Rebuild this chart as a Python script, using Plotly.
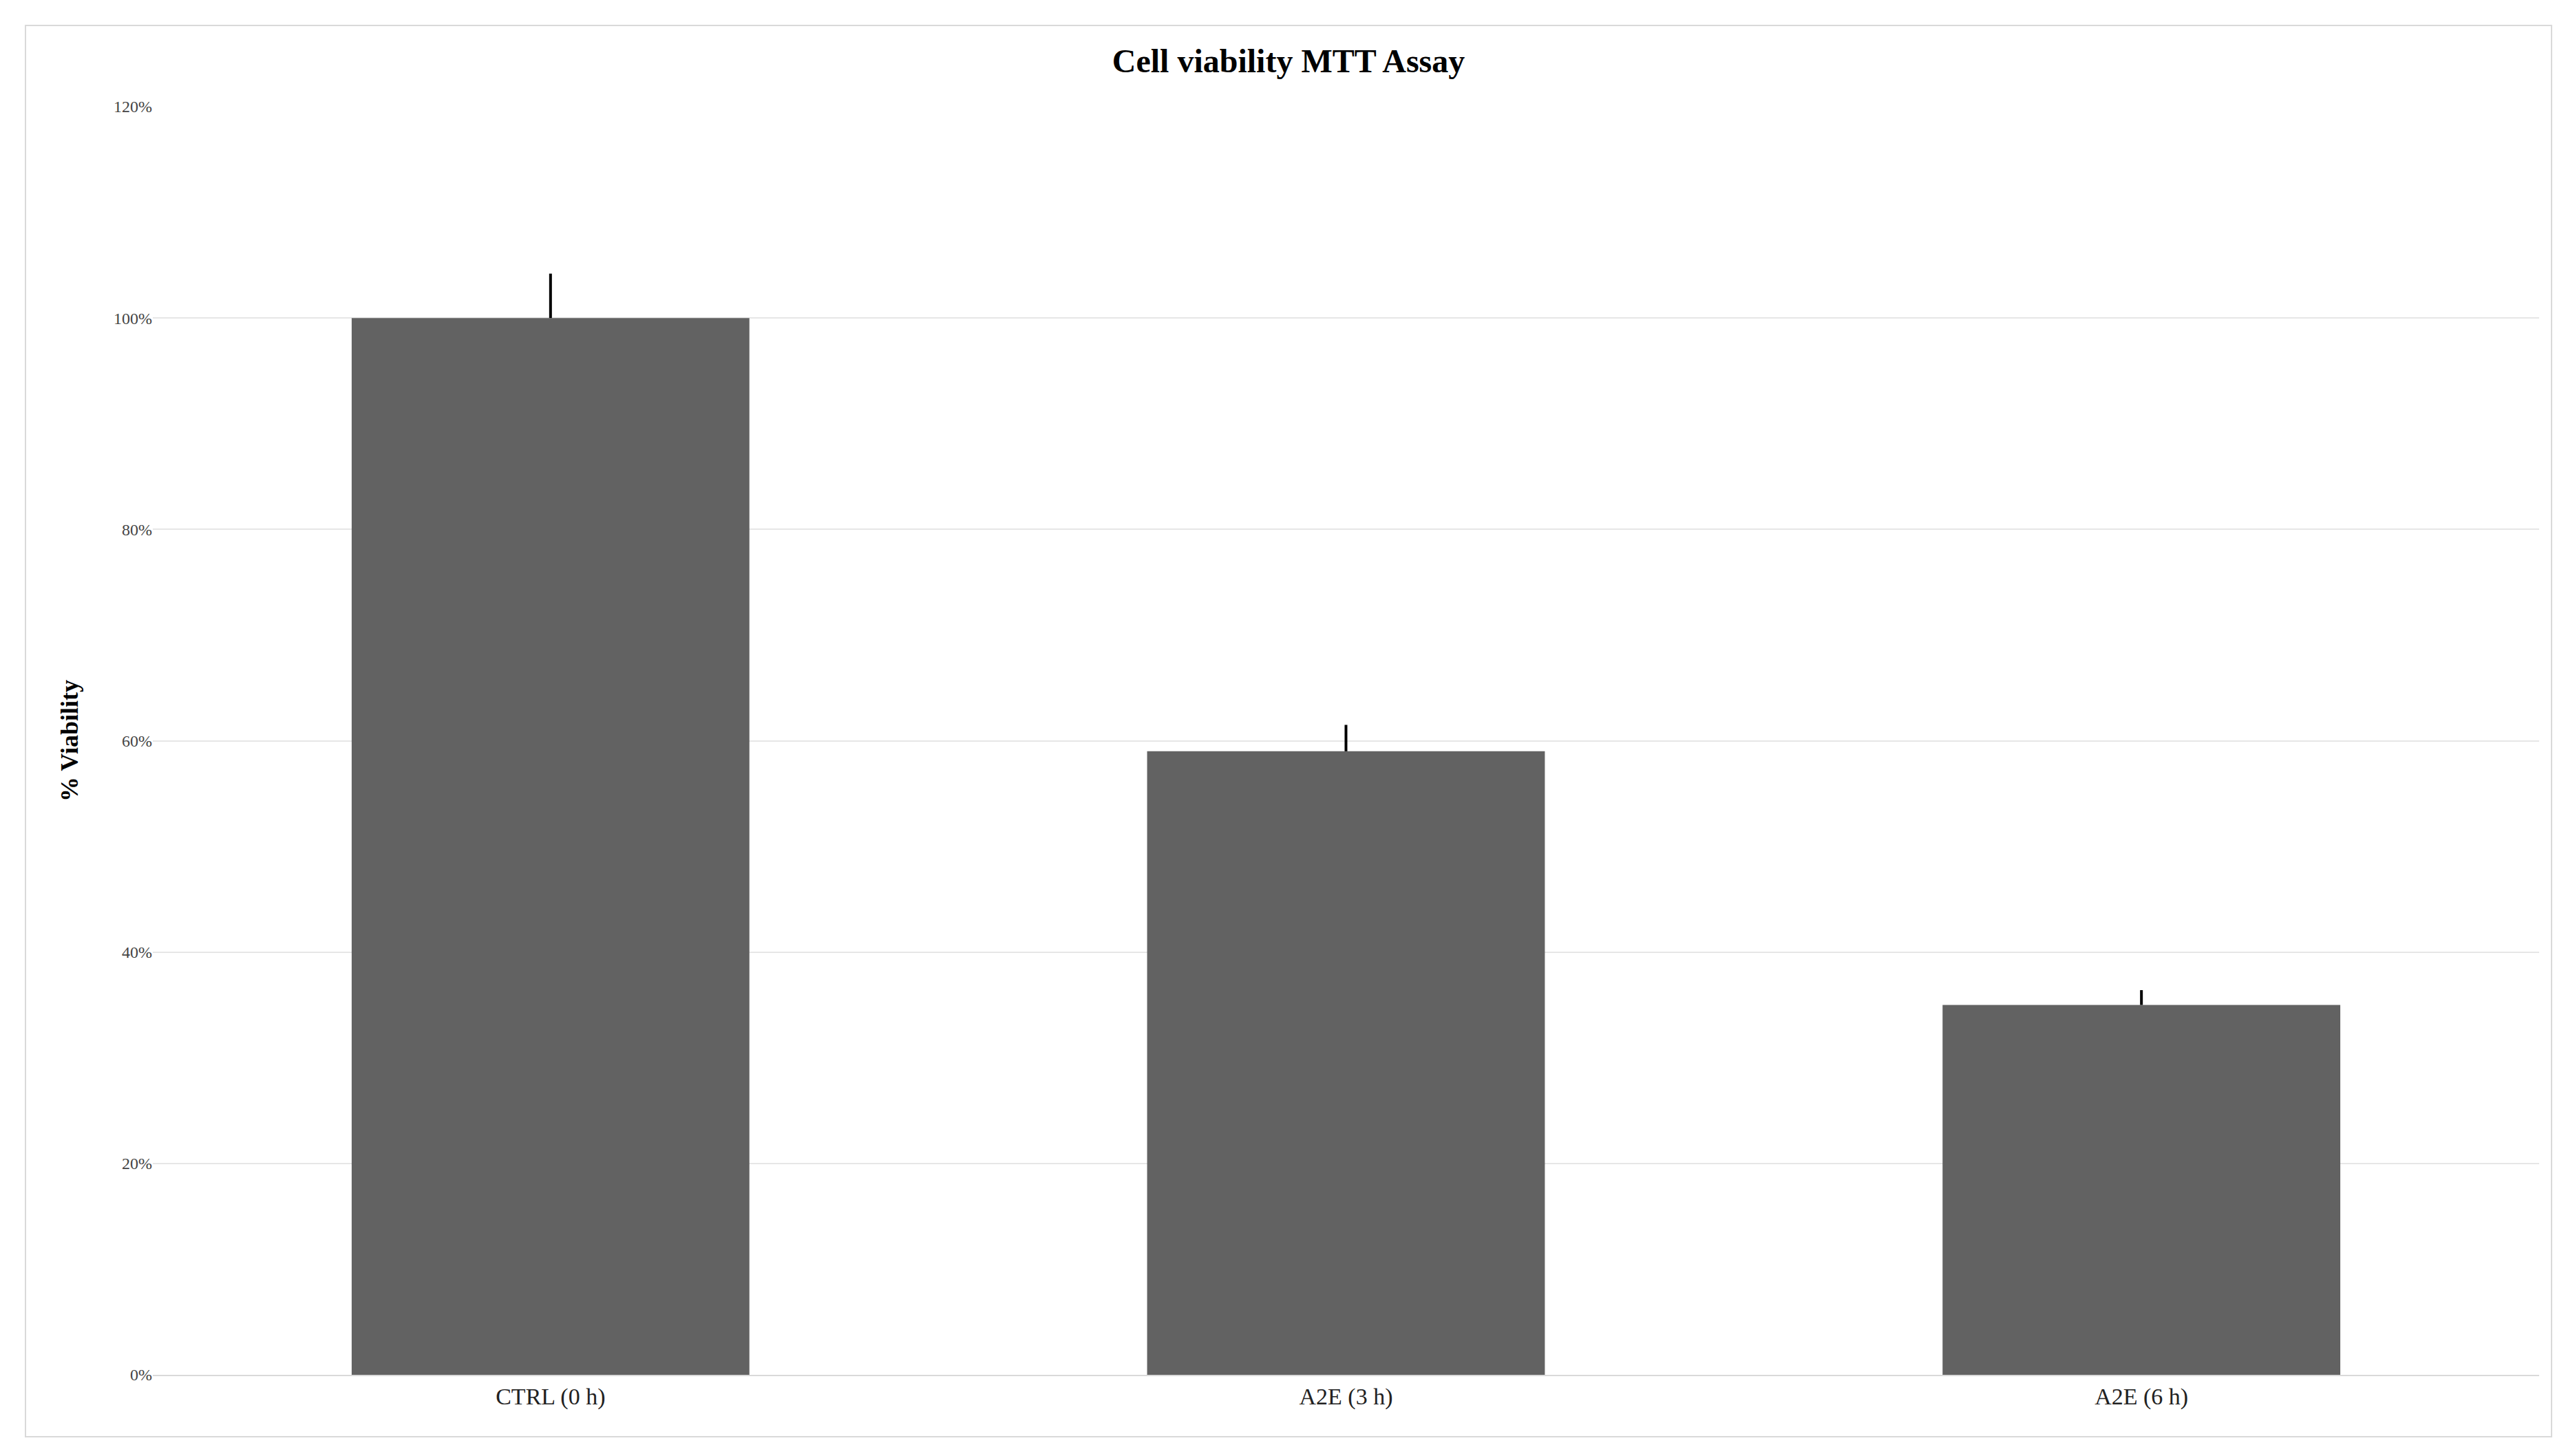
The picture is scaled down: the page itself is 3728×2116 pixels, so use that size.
import plotly.graph_objects as go

categories = ["CTRL (0 h)", "A2E (3 h)", "A2E (6 h)"]
viability = [100, 59, 35]
errors = [4.2, 2.5, 1.4]
tick_vals = [0, 20, 40, 60, 80, 100, 120]
tick_text = ["0%", "20%", "40%", "60%", "80%", "100%", "120%"]

W, H = 3728, 2116
fig = go.Figure(go.Bar(
    x=categories, y=viability,
    marker=dict(color="#626262", line=dict(width=0)),
    error_y=dict(type="data", array=errors, symmetric=False, arrayminus=[0, 0, 0],
                 color="black", thickness=4, width=0),
))
font = "Palatino Linotype, Liberation Serif, DejaVu Serif, serif"
fig.update_layout(
    width=W, height=H, paper_bgcolor="white", plot_bgcolor="white",
    margin=dict(l=214, r=47, t=147, b=126),
    bargap=0.5, showlegend=False,
    font=dict(family=font, color="#222"),
    title=dict(text="<b>Cell viability MTT Assay</b>", x=0.5, xanchor="center",
               y=1 - 80 / H, yanchor="middle", font=dict(size=48, color="black")),
    xaxis=dict(tickfont=dict(size=34, color="#222"), showline=True, linecolor="#d9d9d9",
               linewidth=2, ticks=""),
    yaxis=dict(range=[0, 120], tickvals=tick_vals, ticktext=tick_text,
               tickfont=dict(size=24, color="#444"), gridcolor="#e6e6e6", gridwidth=2,
               zeroline=False, ticks="",
               title=dict(text="<b>% Viability</b>", font=dict(size=36, color="black"), standoff=40)),
    shapes=[dict(type="rect", xref="paper", yref="paper",
                 x0=-185 / 3467, x1=1 + 18 / 3467, y0=-90 / 1843, y1=1 + 118 / 1843,
                 line=dict(color="#d9d9d9", width=2))],
)
fig.write_html("out.html")
